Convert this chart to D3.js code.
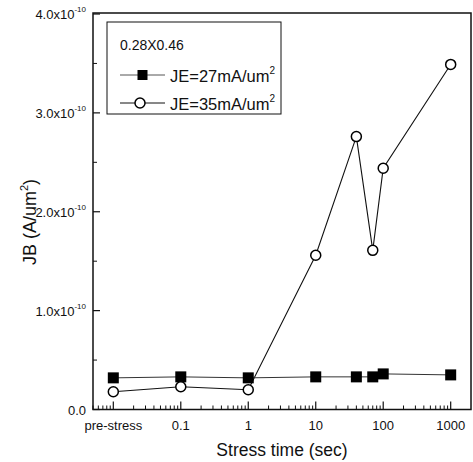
<!DOCTYPE html>
<html><head><meta charset="utf-8">
<script src="https://cdn.jsdelivr.net/npm/d3@7"></script>
<style>body{margin:0;background:#fff}svg{display:block;font-family:"Liberation Sans",Arial,sans-serif}</style>
</head><body><svg id="c" width="473" height="462"></svg>
<script>
// times in seconds; "pre-stress" plotted at 0.01
const times = [0.01, 0.1, 1, 10, 40, 70, 100, 1000];
// JB in units of 1e-10 A/um^2
const je27 = [0.32, 0.33, 0.32, 0.33, 0.33, 0.33, 0.36, 0.35];
const je35 = [0.18, 0.23, 0.20, 1.56, 2.76, 1.61, 2.44, 3.49];
const xTickVals = [0.01, 0.1, 1, 10, 100, 1000];
const xTickLabels = ["pre-stress", "0.1", "1", "10", "100", "1000"];
const yTickVals = [0, 1, 2, 3, 4];
const yTickLabels = ["0.0", "1.0x10", "2.0x10", "3.0x10", "4.0x10"];
const yTickExp = ["", "-10", "-10", "-10", "-10"];
const legendTitle = "0.28X0.46";
const seriesNames = ["JE=27mA/um", "JE=35mA/um"];

const svg = d3.select("#c");
const x = d3.scaleLog().domain([0.005, 2000]).range([93, 471]);
const y = d3.scaleLinear().domain([0, 4]).range([409.5, 14]);
const L = 93, R = 471, T = 13, B = 409.5;

// frame
svg.append("rect").attr("x", L).attr("y", T).attr("width", R - L).attr("height", B - T)
  .attr("fill", "none").attr("stroke", "#111").attr("stroke-width", 1.5);

// x ticks (inward)
const minorX = [];
for (let e = -3; e <= 3; e++) for (let m = 1; m <= 9; m++) {
  const v = m * Math.pow(10, e);
  if (v >= 0.005 && v < 2000 && m !== 1) minorX.push(v);
}
svg.append("g").selectAll("line").data(minorX).join("line")
  .attr("x1", d => x(d)).attr("x2", d => x(d)).attr("y1", B).attr("y2", B - 4)
  .attr("stroke", "#111").attr("stroke-width", 1);
svg.append("g").selectAll("line").data(xTickVals).join("line")
  .attr("x1", d => x(d)).attr("x2", d => x(d)).attr("y1", B).attr("y2", B - 8)
  .attr("stroke", "#111").attr("stroke-width", 1.2);
svg.append("g").selectAll("text").data(xTickVals).join("text")
  .attr("x", d => x(d)).attr("y", 430).attr("text-anchor", "middle")
  .attr("font-size", 13).attr("fill", "#111").text((d, i) => xTickLabels[i]);

// y ticks
svg.append("g").selectAll("line").data([0.5, 1.5, 2.5, 3.5]).join("line")
  .attr("x1", L).attr("x2", L + 4).attr("y1", d => y(d)).attr("y2", d => y(d))
  .attr("stroke", "#111").attr("stroke-width", 1);
svg.append("g").selectAll("line").data(yTickVals).join("line")
  .attr("x1", L).attr("x2", L + 7).attr("y1", d => y(d)).attr("y2", d => y(d))
  .attr("stroke", "#111").attr("stroke-width", 1.2);
const yl = svg.append("g").selectAll("text").data(yTickVals).join("text")
  .attr("x", 86).attr("y", d => y(d) + 5).attr("text-anchor", "end")
  .attr("font-size", 13).attr("fill", "#111");
yl.append("tspan").text((d, i) => yTickLabels[i]);
yl.append("tspan").attr("font-size", 8).attr("dy", -7).text((d, i) => yTickExp[i]);

// axis titles
svg.append("text").attr("x", (L + R) / 2).attr("y", 456).attr("text-anchor", "middle")
  .attr("font-size", 17.5).attr("fill", "#111").text("Stress time (sec)");
const yt = svg.append("text").attr("transform", "translate(36,222) rotate(-90)")
  .attr("text-anchor", "middle").attr("font-size", 18).attr("fill", "#111");
yt.append("tspan").text("JB (A/um");
yt.append("tspan").attr("font-size", 11).attr("dy", -8).text("2");
yt.append("tspan").attr("dy", 8).text(")");

// lines
const line = d3.line().x(d => x(d[0])).y(d => y(d[1]));
const d27 = times.map((t, i) => [t, je27[i]]);
const d35 = times.map((t, i) => [t, je35[i]]);
svg.append("path").datum(d35).attr("d", line).attr("fill", "none").attr("stroke", "#111").attr("stroke-width", 1.1);
svg.append("path").datum(d27).attr("d", line).attr("fill", "none").attr("stroke", "#333").attr("stroke-width", 1);
svg.append("g").selectAll("rect").data(d27).join("rect")
  .attr("x", d => x(d[0]) - 5.5).attr("y", d => y(d[1]) - 5.5).attr("width", 11).attr("height", 11)
  .attr("fill", "#000");
svg.append("g").selectAll("circle").data(d35).join("circle")
  .attr("cx", d => x(d[0])).attr("cy", d => y(d[1])).attr("r", 5)
  .attr("fill", "#fff").attr("stroke", "#000").attr("stroke-width", 1.5);

// legend
const lg = svg.append("g");
lg.append("rect").attr("x", 107).attr("y", 22).attr("width", 174).attr("height", 92)
  .attr("fill", "#fff").attr("stroke", "#111").attr("stroke-width", 1);
lg.append("text").attr("x", 120).attr("y", 49.5).attr("font-size", 14).attr("fill", "#111").text(legendTitle);
const rows = [75, 103];
rows.forEach((ry, i) => {
  lg.append("line").attr("x1", 120).attr("x2", 165).attr("y1", ry).attr("y2", ry)
    .attr("stroke", i === 0 ? "#555" : "#111").attr("stroke-width", 1);
  if (i === 0) lg.append("rect").attr("x", 137.5).attr("y", ry - 5).attr("width", 10).attr("height", 10).attr("fill", "#000");
  else lg.append("circle").attr("cx", 140).attr("cy", ry).attr("r", 5).attr("fill", "#fff").attr("stroke", "#000").attr("stroke-width", 1.5);
  const t = lg.append("text").attr("x", 170).attr("y", ry + 6.5).attr("font-size", 16.5).attr("fill", "#111");
  t.append("tspan").text(seriesNames[i]);
  t.append("tspan").attr("font-size", 10).attr("dy", -8).text("2");
});
</script></body></html>
